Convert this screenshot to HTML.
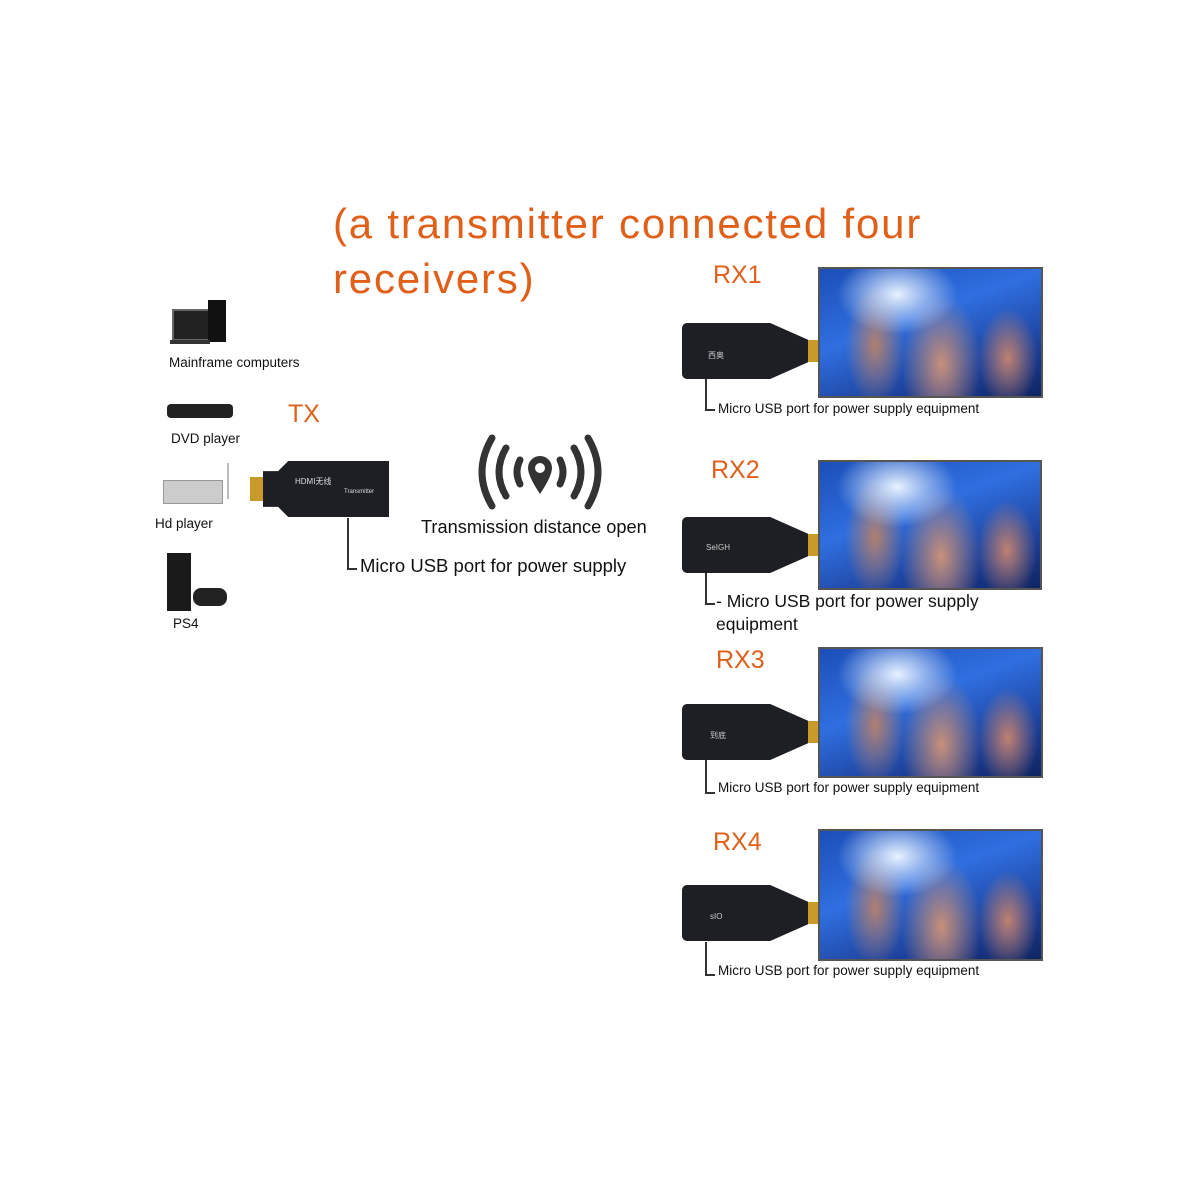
<!DOCTYPE html>
<html><head><meta charset="utf-8"><style>
body{margin:0;width:1200px;height:1200px;background:#fff;position:relative;overflow:hidden;font-family:"Liberation Sans","Noto Sans CJK SC",sans-serif}
.a{position:absolute}
.or{color:#e0601a}
.t{font-size:13.5px;color:#111;white-space:nowrap}
.scr{position:absolute;border:2px solid #555;background:
radial-gradient(ellipse 60px 40px at 35% 20%,#e8f2ff,transparent),
radial-gradient(ellipse 40px 70px at 55% 75%,#c8907a,transparent),
radial-gradient(ellipse 30px 60px at 25% 60%,#b07f70,transparent),
radial-gradient(ellipse 30px 50px at 85% 70%,#c08070,transparent),
linear-gradient(160deg,#1c4fb8,#2f6fe0 40%,#1a3a90 80%,#0f2560);box-sizing:border-box}
.dg{position:absolute;width:126px;height:56px;background:#1d1f24;border-radius:5px 0 0 5px;clip-path:polygon(0 0,70% 0,100% 30%,100% 70%,70% 100%,0 100%)}
.plug{position:absolute;width:10px;height:22px;background:#c89a2a}
.ln{position:absolute;border-left:2px solid #333;border-bottom:2px solid #333;width:8px}
.lbl{position:absolute;color:#ccc;font-size:8px}
</style></head><body>
<div class="a or" style="left:333px;top:196px;font-size:42px;line-height:55px;letter-spacing:1.8px">(a transmitter connected four<br>receivers)</div>

<!-- left devices -->
<div class="a" style="left:172px;top:309px;width:36px;height:28px;background:#222;border:2px solid #666"></div>
<div class="a" style="left:208px;top:300px;width:18px;height:42px;background:#111"></div>
<div class="a" style="left:170px;top:340px;width:40px;height:4px;background:#333"></div>
<div class="a t" style="left:169px;top:355px">Mainframe computers</div>
<div class="a" style="left:167px;top:404px;width:66px;height:14px;background:#222;border-radius:4px"></div>
<div class="a t" style="left:171px;top:431px">DVD player</div>
<div class="a" style="left:163px;top:480px;width:58px;height:22px;background:#ccc;border:1px solid #999"></div>
<div class="a" style="left:227px;top:463px;width:2px;height:36px;background:#bbb"></div>
<div class="a t" style="left:155px;top:516px">Hd player</div>
<div class="a" style="left:167px;top:553px;width:24px;height:58px;background:#1a1a1a"></div>
<div class="a" style="left:193px;top:588px;width:34px;height:18px;background:#222;border-radius:8px"></div>
<div class="a t" style="left:173px;top:616px">PS4</div>

<!-- TX -->
<div class="a or" style="left:288px;top:400px;font-size:25px">TX</div>
<div class="a" style="left:250px;top:477px;width:14px;height:24px;background:#c89a2a"></div>
<div class="a" style="left:263px;top:461px;width:126px;height:56px;background:#1d1f24;clip-path:polygon(12% 18%,20% 0,100% 0,100% 100%,20% 100%,12% 82%,0 82%,0 18%)"></div>
<div class="a" style="left:295px;top:476px;color:#ddd;font-size:8px">HDMI无线</div>
<div class="a" style="left:344px;top:489px;color:#ddd;font-size:6px">Transmitter</div>
<div class="ln" style="left:347px;top:518px;height:50px"></div>
<div class="a" style="left:360px;top:555px;font-size:18.5px;color:#111;white-space:nowrap">Micro USB port for power supply</div>

<!-- wireless icon -->
<svg class="a" style="left:478px;top:432px" width="124" height="80" viewBox="0 0 124 80">
<g fill="none" stroke="#333" stroke-width="7" stroke-linecap="round">
<path d="M14 6 Q-6 40 14 74"/><path d="M110 6 Q130 40 110 74"/>
<path d="M28 16 Q14 40 28 64"/><path d="M96 16 Q110 40 96 64"/>
<path d="M42 28 Q36 40 42 52"/><path d="M82 28 Q88 40 82 52"/>
</g>
<path d="M62 24 a12 12 0 0 1 12 12 q0 8 -12 26 q-12 -18 -12 -26 a12 12 0 0 1 12 -12z" fill="#333"/>
<circle cx="62" cy="36" r="5" fill="#fff"/>
</svg>
<div class="a" style="left:421px;top:517px;font-size:18.2px;color:#111;white-space:nowrap">Transmission distance open</div>

<!-- RX1 -->
<div class="a or" style="left:713px;top:261px;font-size:25px">RX1</div>
<div class="scr" style="left:818px;top:267px;width:225px;height:131px"></div>
<div class="dg" style="left:682px;top:323px"></div><div class="plug" style="left:808px;top:340px"></div>
<div class="lbl" style="left:708px;top:350px">西奥</div>
<div class="ln" style="left:705px;top:379px;height:30px"></div>
<div class="a t" style="left:718px;top:401px">Micro USB port for power supply equipment</div>

<!-- RX2 -->
<div class="a or" style="left:711px;top:456px;font-size:25px">RX2</div>
<div class="scr" style="left:818px;top:460px;width:224px;height:130px"></div>
<div class="dg" style="left:682px;top:517px"></div><div class="plug" style="left:808px;top:534px"></div>
<div class="lbl" style="left:706px;top:543px">SeIGH</div>
<div class="ln" style="left:705px;top:573px;height:30px"></div>
<div class="a" style="left:716px;top:590px;font-size:17.5px;color:#111;line-height:23px">- Micro USB port for power supply<br>equipment</div>

<!-- RX3 -->
<div class="a or" style="left:716px;top:646px;font-size:25px">RX3</div>
<div class="scr" style="left:818px;top:647px;width:225px;height:131px"></div>
<div class="dg" style="left:682px;top:704px"></div><div class="plug" style="left:808px;top:721px"></div>
<div class="lbl" style="left:710px;top:730px">到底</div>
<div class="ln" style="left:705px;top:760px;height:32px"></div>
<div class="a t" style="left:718px;top:780px">Micro USB port for power supply equipment</div>

<!-- RX4 -->
<div class="a or" style="left:713px;top:828px;font-size:25px">RX4</div>
<div class="scr" style="left:818px;top:829px;width:225px;height:132px"></div>
<div class="dg" style="left:682px;top:885px"></div><div class="plug" style="left:808px;top:902px"></div>
<div class="lbl" style="left:710px;top:912px">sIO</div>
<div class="ln" style="left:705px;top:942px;height:32px"></div>
<div class="a t" style="left:718px;top:963px">Micro USB port for power supply equipment</div>
</body></html>
